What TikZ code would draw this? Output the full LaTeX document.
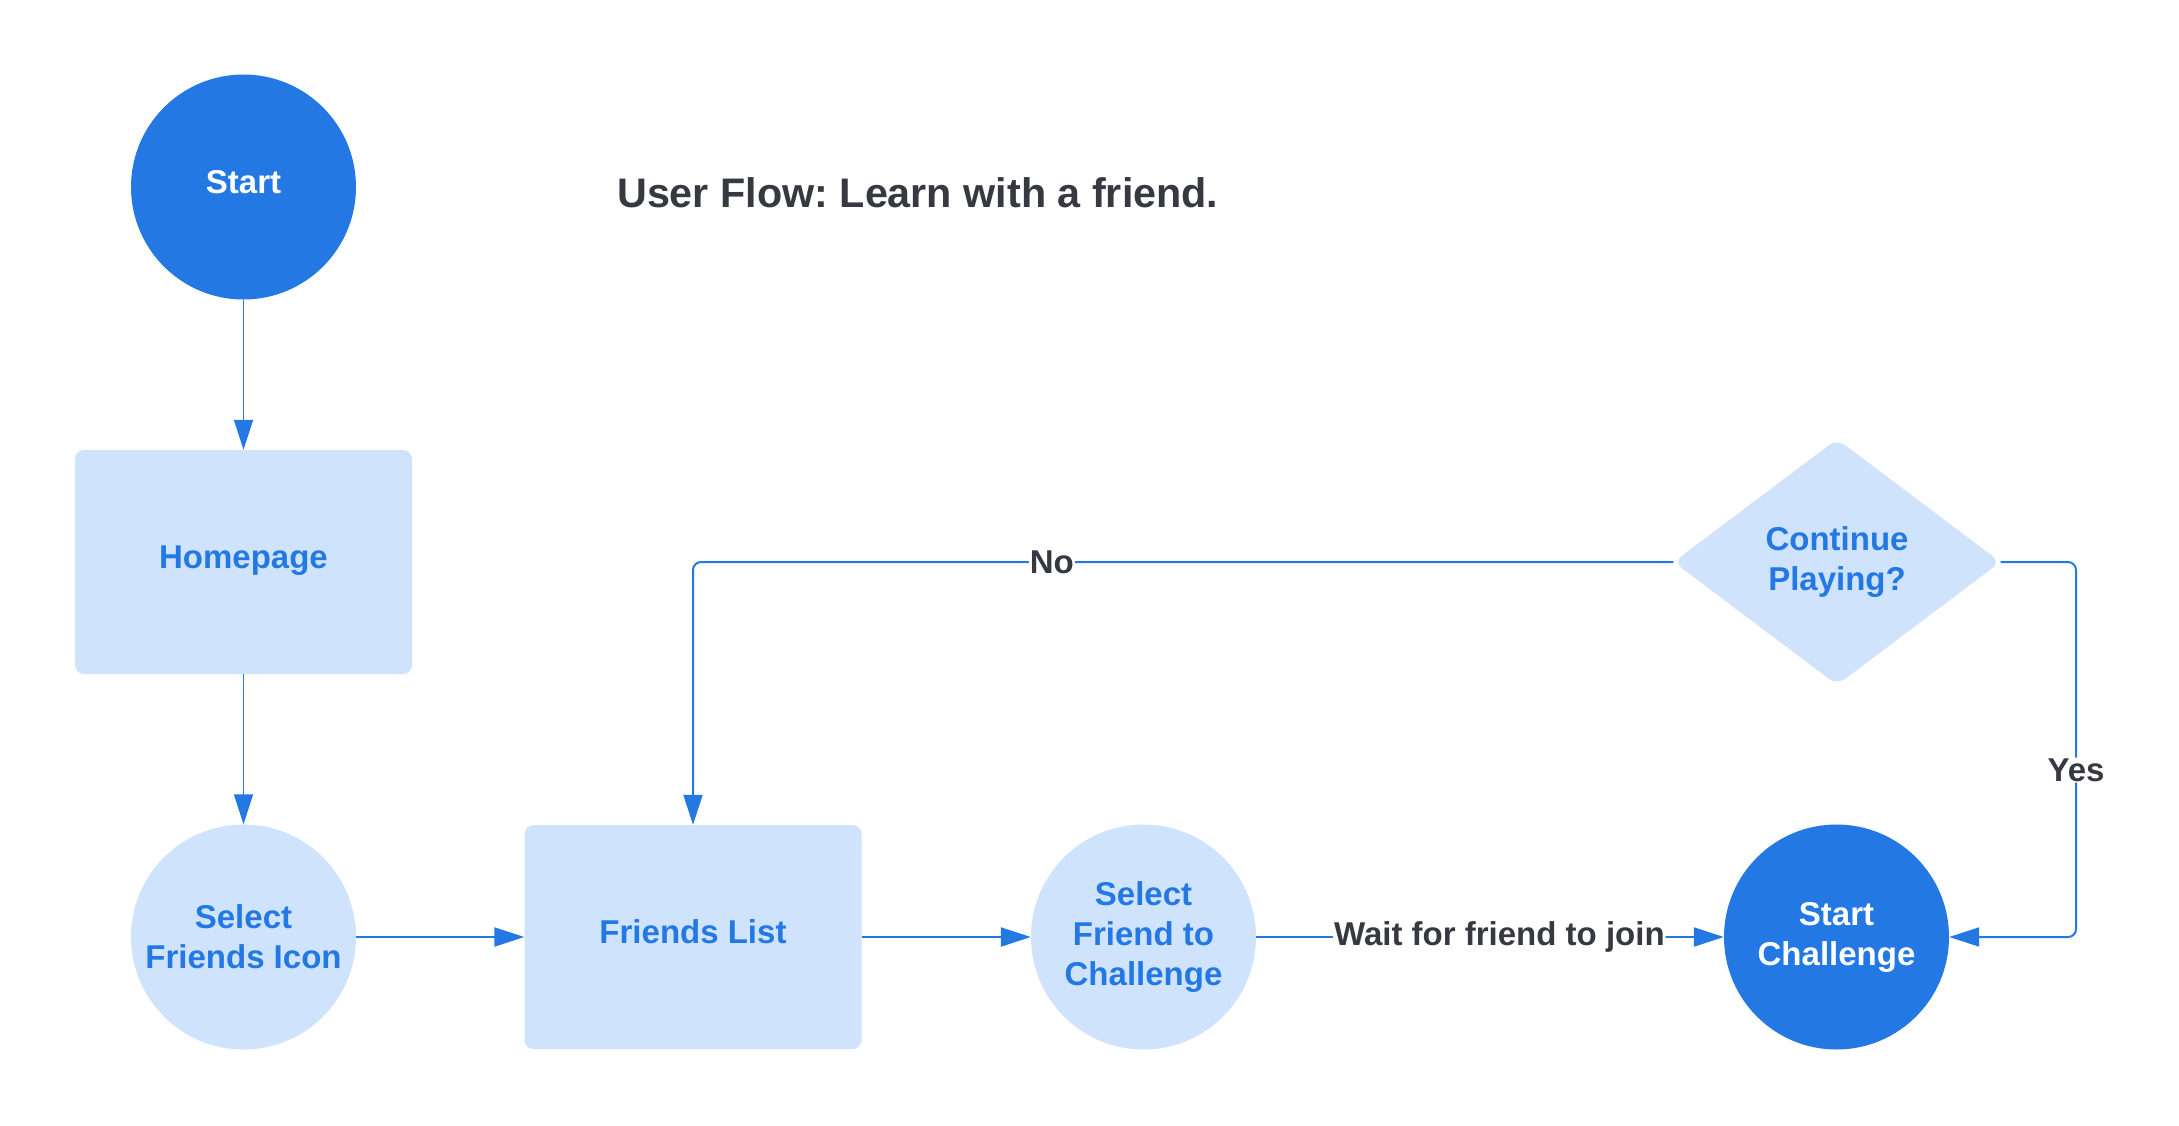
\documentclass[tikz,border=0pt]{standalone}
\usepackage{fontspec}
\setmainfont{Liberation Sans}
\frenchspacing
\usetikzlibrary{arrows.meta,shapes.geometric,calc}
\definecolor{dblue}{HTML}{2378E3}
\definecolor{lblue}{HTML}{CFE4FC}
\definecolor{txtdark}{HTML}{363940}
\tikzset{
  nodefont/.style={font=\fontsize{33}{40}\selectfont\bfseries, align=center},
  oneline/.style={text height=24pt, text depth=12pt},
  darkcircle/.style={circle, fill=dblue, text=white, minimum size=225pt, inner sep=0pt, nodefont},
  lightcircle/.style={circle, fill=lblue, text=dblue, minimum size=225pt, inner sep=0pt, nodefont},
  lightbox/.style={rectangle, rounded corners=9pt, fill=lblue, text=dblue, minimum width=337pt, minimum height=224pt, inner sep=0pt, nodefont},
  decision/.style={diamond, rounded corners=10pt, fill=lblue, text=dblue, minimum width=327pt, minimum height=246pt, inner sep=0pt, nodefont},
  conn/.style={draw=dblue, line width=2pt, rounded corners=8pt, -{Triangle[length=30pt,width=19pt]}},
  lbl/.style={fill=white, text=txtdark, inner sep=1pt, font=\fontsize{33}{40}\selectfont\bfseries},
}
\begin{document}
\begin{tikzpicture}[x=1pt,y=-1pt]
\useasboundingbox (0,0) rectangle (2179,1125);
\fill[white] (0,0) rectangle (2179,1125);
\node[anchor=base west, text=txtdark, inner sep=0pt, font=\fontsize{41.3}{48}\selectfont\bfseries] (title) at (617,207) {User Flow: Learn with a friend.};
\node[darkcircle, oneline] (start) at (243.5,187) {Start};
\node[lightbox, oneline] (home) at (243.5,562) {Homepage};
\node[lightcircle] (sfi) at (243.5,937) {Select\\Friends Icon};
\node[lightbox, oneline] (flist) at (693,937) {Friends List};
\node[lightcircle] (sfc) at (1143.5,937) {Select\\Friend to\\Challenge};
\node[darkcircle] (sc) at (1836.5,937) {Start\\Challenge};
\node[decision] (cont) at (1837,562) {Continue\\Playing?};
\coordinate (ycol) at (2076,0);
\draw[conn, line width=1.6pt] (start) -- (home);
\draw[conn, line width=1.6pt] (home) -- (sfi);
\draw[conn] (sfi) -- (flist);
\draw[conn] (flist) -- (sfc);
\draw[conn] (sfc) -- node[lbl, pos=0.52] (wlbl) {Wait for friend to join} (sc);
\draw[conn] (cont.west) -| node[lbl, pos=0.317] (nolbl) {No} (flist.north);
\draw[conn] (cont.east) -- (cont.east -| ycol) -- node[lbl, pos=0.555] (yeslbl) {Yes} (sc.east -| ycol) -- (sc.east);
\end{tikzpicture}
\end{document}
